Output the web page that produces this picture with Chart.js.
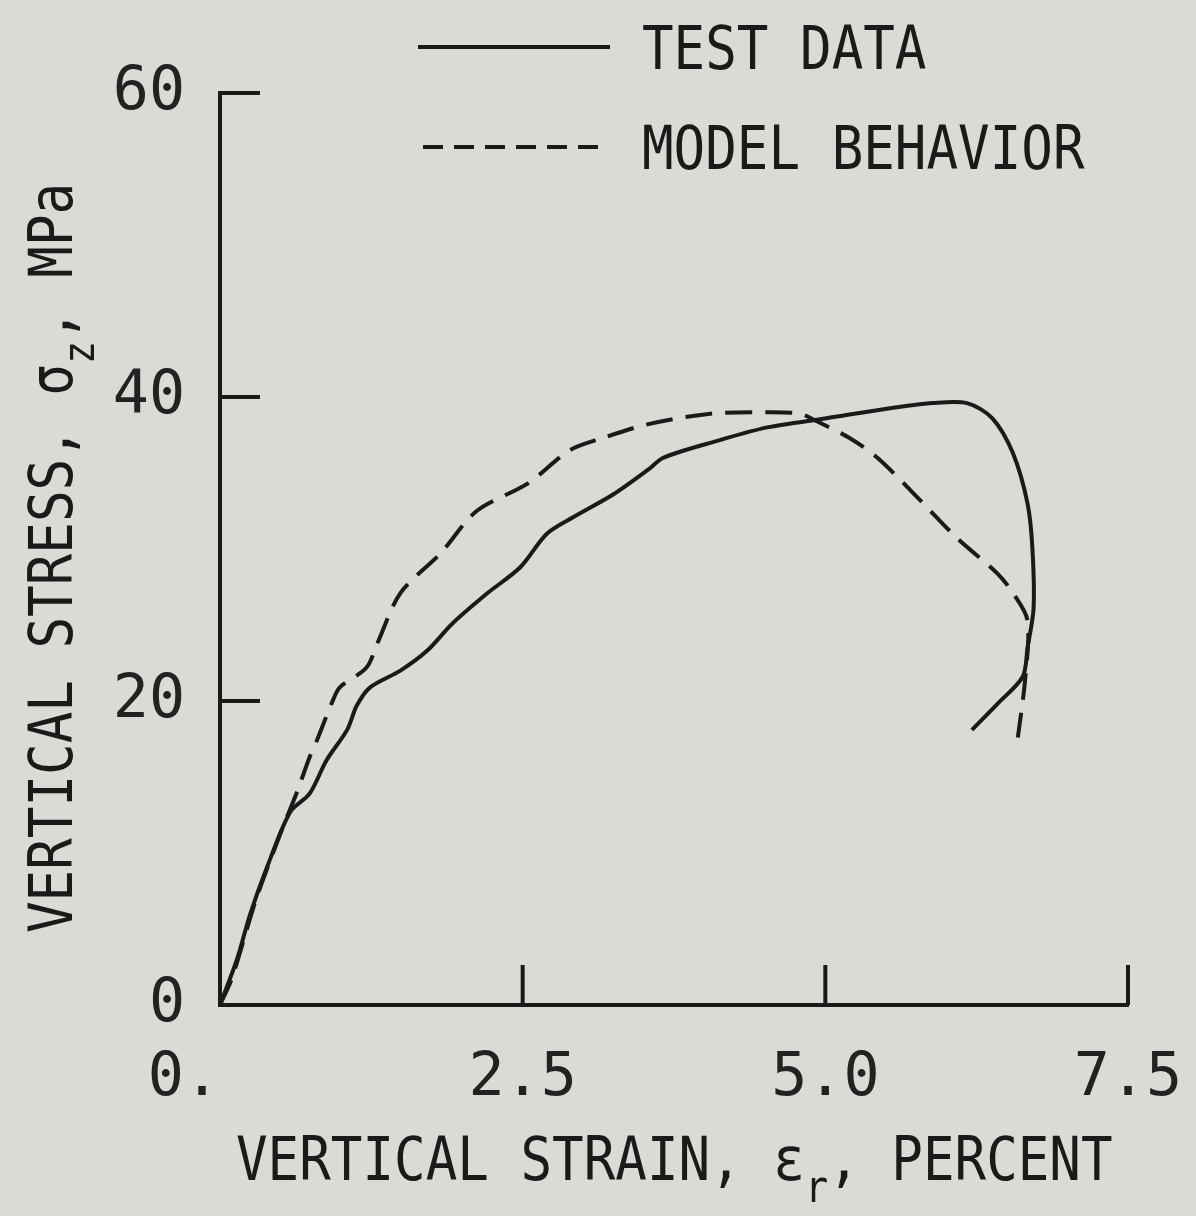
<!DOCTYPE html>
<html>
<head>
<meta charset="utf-8">
<script src="https://cdn.jsdelivr.net/npm/chart.js@4.4.1/dist/chart.umd.min.js"></script>
<style>
  body { margin: 0; background: #dcdad5; }
  #wrap { width: 1196px; height: 1216px; }
</style>
</head>
<body>
<div id="wrap"><canvas id="stressChart" width="1196" height="1216"></canvas></div>
<script>
// Data Block (strain in percent, stress in MPa)
const testStrain = [0, 0.14, 0.25, 0.39, 0.58, 0.74, 0.88, 1.05, 1.13, 1.24, 1.49, 1.71, 1.92, 2.21, 2.48, 2.70, 2.92, 3.25, 3.55, 3.66, 4.10, 4.52, 5.01, 5.48, 5.89, 6.17, 6.38, 6.55, 6.67, 6.71, 6.72, 6.67, 6.63, 6.42, 6.21];
const testStress = [0, 3.0, 6.0, 9.1, 12.7, 13.9, 16.1, 18.1, 19.7, 20.9, 22.0, 23.3, 25.1, 27.1, 28.8, 31.0, 32.1, 33.6, 35.3, 36.0, 37.1, 38.0, 38.6, 39.2, 39.6, 39.6, 38.6, 36.3, 33.0, 30.1, 26.1, 23.5, 21.6, 19.8, 18.1];

const modelStrain = [0, 0.10, 0.30, 0.50, 0.64, 0.74, 0.80, 0.93, 0.99, 1.21, 1.30, 1.49, 1.82, 2.12, 2.54, 2.89, 3.16, 3.53, 4.05, 4.52, 4.79, 4.93, 5.20, 5.43, 5.76, 6.09, 6.42, 6.55, 6.67, 6.65, 6.59];
const modelStress = [0, 1.8, 7.0, 11.3, 14.1, 16.3, 17.4, 20.0, 20.9, 22.2, 23.8, 27.1, 29.7, 32.5, 34.3, 36.5, 37.3, 38.2, 38.9, 39.0, 38.9, 38.4, 37.3, 36.0, 33.4, 30.7, 28.4, 27.1, 25.3, 21.4, 17.6];

const xTicks = [0, 2.5, 5.0, 7.5];
const yTicks = [0, 20, 40, 60];

const ink = "#1a1a1a";
const monoFont = '"DejaVu Sans Mono", "Liberation Mono", monospace';

function toPoints(xs, ys) {
  return xs.map((x, i) => ({ x: x, y: ys[i] }));
}

// draw text pieces, some of them as subscripts, squeezed a bit like a typewriter font
function drawPieces(ctx, pieces, squeeze) {
  let x = 0;
  pieces.forEach((p) => {
    ctx.font = (p.sub ? 44 : 60) + "px " + monoFont;
    ctx.save();
    ctx.scale(squeeze, 1);
    ctx.fillText(p.t, x / squeeze, p.sub ? 22 : 0);
    ctx.restore();
    x += ctx.measureText(p.t).width * squeeze;
  });
}

// axis titles, inner tick marks and the legend
const decorations = {
  id: "decorations",
  afterDraw(chart) {
    const ctx = chart.ctx;
    const xs = chart.scales.x;
    const ys = chart.scales.y;
    const area = chart.chartArea;
    ctx.save();
    ctx.strokeStyle = ink;
    ctx.fillStyle = ink;
    ctx.lineWidth = 4;
    ctx.lineCap = "butt";

    // tick marks point into the plot
    yTicks.slice(1).forEach((v) => {
      const py = ys.getPixelForValue(v);
      ctx.beginPath();
      ctx.moveTo(area.left, py);
      ctx.lineTo(area.left + 40, py);
      ctx.stroke();
    });
    xTicks.slice(1).forEach((v) => {
      const px = xs.getPixelForValue(v);
      ctx.beginPath();
      ctx.moveTo(px, area.bottom);
      ctx.lineTo(px, area.bottom - 40);
      ctx.stroke();
    });

    // legend
    const sets = chart.data.datasets;
    const rows = [
      { y: 47, x0: 418, x1: 610 },
      { y: 147, x0: 423, x1: 606 },
    ];
    sets.forEach((ds, i) => {
      const r = rows[i];
      ctx.save();
      ctx.lineWidth = ds.borderWidth;
      ctx.setLineDash(i === 1 ? [20, 11] : []);
      ctx.beginPath();
      ctx.moveTo(r.x0, r.y);
      ctx.lineTo(r.x1, r.y);
      ctx.stroke();
      ctx.restore();
      ctx.save();
      ctx.textBaseline = "alphabetic";
      ctx.translate(642, r.y + 22);
      drawPieces(ctx, [{ t: ds.label }], 0.875);
      ctx.restore();
    });

    // x axis title
    ctx.save();
    ctx.textBaseline = "alphabetic";
    ctx.translate(236, 1180);
    drawPieces(ctx, [{ t: "VERTICAL STRAIN, ε" }, { t: "r", sub: true }, { t: ", PERCENT" }], 0.875);
    ctx.restore();

    // y axis title
    ctx.save();
    ctx.textBaseline = "alphabetic";
    ctx.translate(72, 933);
    ctx.rotate(-Math.PI / 2);
    drawPieces(ctx, [{ t: "VERTICAL STRESS, σ" }, { t: "z", sub: true }, { t: ", MPa" }], 0.875);
    ctx.restore();

    ctx.restore();
  },
};

const stressData = {
  datasets: [
    {
      label: "TEST DATA",
      data: toPoints(testStrain, testStress),
      showLine: true,
      borderColor: ink,
      borderWidth: 4,
      pointRadius: 0,
      tension: 0.3,
    },
    {
      label: "MODEL BEHAVIOR",
      data: toPoints(modelStrain, modelStress),
      showLine: true,
      borderColor: ink,
      borderWidth: 4,
      borderDash: [27, 13],
      pointRadius: 0,
      tension: 0.3,
    },
  ],
};

const stressConfig = {
  type: "scatter",
  data: stressData,
  plugins: [decorations],
  options: {
    responsive: false,
    animation: false,
    layout: { padding: { top: 93, right: 68, left: 0, bottom: 0 } },
    plugins: {
      legend: { display: false },
      tooltip: { enabled: false },
    },
    scales: {
      x: {
        type: "linear",
        min: 0,
        max: 7.5,
        afterBuildTicks: (scale) => {
          scale.ticks = xTicks.map((v) => ({ value: v }));
        },
        afterFit: (scale) => {
          scale.height = 211;
          scale.paddingLeft = 0;
          scale.paddingRight = 0;
        },
        grid: { display: false, drawTicks: false },
        border: { display: true, color: ink, width: 4 },
        ticks: {
          padding: 38,
          color: "#222",
          font: { family: monoFont, size: 60 },
          maxRotation: 0,
          callback: (v) => (v === 0 ? "0.  " : v.toFixed(1)),
        },
      },
      y: {
        type: "linear",
        min: 0,
        max: 60,
        afterBuildTicks: (scale) => {
          scale.ticks = yTicks.map((v) => ({ value: v }));
        },
        afterFit: (scale) => {
          scale.width = 220;
          scale.paddingTop = 0;
          scale.paddingBottom = 0;
        },
        grid: { display: false, drawTicks: false },
        border: { display: true, color: ink, width: 4 },
        ticks: {
          padding: 35,
          color: "#222",
          font: { family: monoFont, size: 60 },
          callback: (v) => String(v),
        },
      },
    },
  },
};

// Render Block
const stressChart = new Chart(document.getElementById("stressChart"), stressConfig);
</script>
</body>
</html>
